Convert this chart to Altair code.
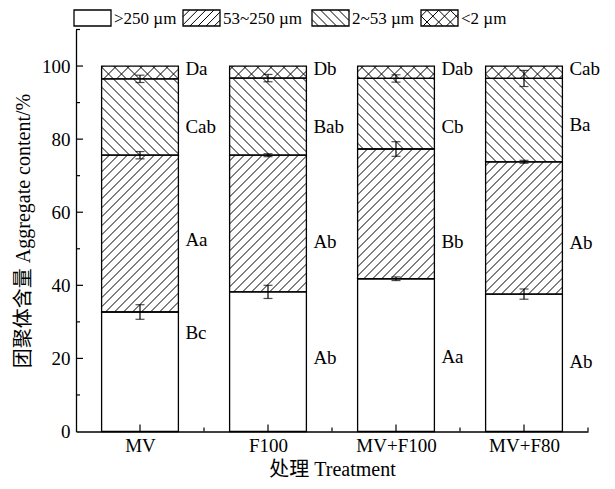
import altair as alt
import pandas as pd
import numpy as np

# ---------------- data ----------------
treatments = ["MV", "F100", "MV+F100", "MV+F80"]
size_classes = [">250 µm", "53~250 µm", "2~53 µm", "<2 µm"]

pct_gt250 = [32.7, 38.2, 41.8, 37.6]
pct_53_250 = [42.9, 37.4, 35.5, 36.2]
pct_2_53 = [20.9, 21.1, 19.3, 22.8]
pct_lt2 = [3.5, 3.3, 3.4, 3.4]

err_gt250 = [2.0, 1.8, 0.5, 1.4]
err_53_250 = [1.0, 0.4, 2.0, 0.4]
err_2_53 = [1.0, 1.0, 1.0, 2.2]

letters_gt250 = ["Bc", "Ab", "Aa", "Ab"]
letters_53_250 = ["Aa", "Ab", "Bb", "Ab"]
letters_2_53 = ["Cab", "Bab", "Cb", "Ba"]
letters_lt2 = ["Da", "Db", "Dab", "Cab"]

label_y_gt250 = [27.0, 20.0, 20.3, 19.0]
label_y_53_250 = [52.3, 51.8, 51.8, 51.5]
label_y_2_53 = [83.3, 83.3, 83.3, 83.8]
label_y_lt2 = [99.2, 99.2, 99.2, 99.2]

y_major = [0, 20, 40, 60, 80, 100]
y_minor = [10, 30, 50, 70, 90, 110]
x_minor = [1.5, 2.5, 3.5, 4.5]

# ---------------- layout / style ----------------
W, H = 512, 402
X_DOM = (0.5, 4.5)
Y_DOM = (0, 110)
KX = W / (X_DOM[1] - X_DOM[0])
KY = H / (Y_DOM[1] - Y_DOM[0])
HALF_BAR = 0.3
FONT = "Liberation Serif, Times New Roman, Noto Sans CJK SC"
patterns = [None, "/", "\\", "x"]
spacings = [None, 9.0, 10.0, 13.0]


def hatch(x0, x1, y0, y1, kind, s):
    """Clip 45-degree hatch lines (pixel space) to a rectangle given in data units."""
    u0, u1 = (x0 - X_DOM[0]) * KX, (x1 - X_DOM[0]) * KX
    v0, v1 = y0 * KY, y1 * KY
    out = []
    kinds = ["/", "\\"] if kind == "x" else [kind]
    for k in kinds:
        if k == "/":
            cmin, cmax = v0 - u1, v1 - u0
            for c in np.arange(np.floor(cmin / s) * s, cmax + s, s):
                lo, hi = max(u0, v0 - c), min(u1, v1 - c)
                if hi - lo > 0.3:
                    out.append((lo, lo + c, hi, hi + c))
        else:
            cmin, cmax = u0 + v0, u1 + v1
            for c in np.arange(np.floor(cmin / s) * s, cmax + s, s):
                lo, hi = max(u0, c - v1), min(u1, c - v0)
                if hi - lo > 0.3:
                    out.append((lo, c - lo, hi, c - hi))
    return [(a / KX + X_DOM[0], b / KY, c / KX + X_DOM[0], d / KY) for a, b, c, d in out]


# ---------------- build tables ----------------
segs = [pct_gt250, pct_53_250, pct_2_53, pct_lt2]
errs = [err_gt250, err_53_250, err_2_53]
letters = [letters_gt250, letters_53_250, letters_2_53, letters_lt2]
label_ys = [label_y_gt250, label_y_53_250, label_y_2_53, label_y_lt2]

rect_rows, hatch_rows, err_rows, text_rows = [], [], [], []
for i, t in enumerate(treatments):
    c = i + 1
    base = 0.0
    for j, cls in enumerate(size_classes):
        top = base + segs[j][i]
        rect_rows.append(dict(x0=c - HALF_BAR, x1=c + HALF_BAR, y0=base, y1=top, cls=cls))
        if patterns[j]:
            for a, b, cc, d in hatch(c - HALF_BAR, c + HALF_BAR, base, top, patterns[j], spacings[j]):
                hatch_rows.append(dict(xa=a, ya=b, xb=cc, yb=d))
        if j < 3:
            err_rows.append(dict(x=c, lo=top - errs[j][i], hi=top + errs[j][i]))
        text_rows.append(dict(x=c + HALF_BAR, y=label_ys[j][i], t=letters[j][i]))
        base = top

# legend (pixel layout above the plot, converted to data units)
leg_sw_x = [74, 183, 312, 421]
leg_w, leg_top, leg_bot, leg_ty = 37, 10, 26, 18.5
PLOT_LEFT, PLOT_TOP = 76, 29.5


def px2x(px):
    return X_DOM[0] + (px - PLOT_LEFT) / KX


def py2y(py):
    return (H - (py - PLOT_TOP)) / KY


leg_rect, leg_text = [], []
for j, cls in enumerate(size_classes):
    x0, x1 = px2x(leg_sw_x[j]), px2x(leg_sw_x[j] + leg_w)
    y0, y1 = py2y(leg_bot), py2y(leg_top)
    leg_rect.append(dict(x0=x0, x1=x1, y0=y0, y1=y1))
    if patterns[j]:
        for a, b, cc, d in hatch(x0, x1, y0, y1, patterns[j], spacings[j] * 0.9):
            hatch_rows.append(dict(xa=a, ya=b, xb=cc, yb=d))
    leg_text.append(dict(x=px2x(leg_sw_x[j] + leg_w + 3), y=py2y(leg_ty), t=cls))

rect_df = pd.DataFrame(rect_rows)
hatch_df = pd.DataFrame(hatch_rows)
err_df = pd.DataFrame(err_rows)
text_df = pd.DataFrame(text_rows)
leg_rect_df = pd.DataFrame(leg_rect)
leg_text_df = pd.DataFrame(leg_text)

# ---------------- encodings ----------------
xs = alt.Scale(domain=list(X_DOM), nice=False, zero=False)
ys = alt.Scale(domain=list(Y_DOM), nice=False, zero=False)
x_axis = alt.Axis(
    values=[1, 2, 3, 4],
    labelExpr="['', 'MV', 'F100', 'MV+F100', 'MV+F80'][datum.value]",
    tickSize=0, grid=False, labelPadding=5, title="处理 Treatment", titlePadding=4,
)
y_axis = alt.Axis(
    values=y_major, tickSize=0, grid=False, labelPadding=6,
    title="团聚体含量 Aggregate content/%", titlePadding=8,
)


def X(f):
    return alt.X(f, type="quantitative", scale=xs, axis=x_axis)


def Y(f):
    return alt.Y(f, type="quantitative", scale=ys, axis=y_axis)


bars = alt.Chart(rect_df).mark_rect(fill="white", stroke=None).encode(
    x=X("x0"), x2="x1", y=Y("y0"), y2="y1")
hatch_l = alt.Chart(hatch_df).mark_rule(color="black", strokeWidth=1.0).encode(
    x=X("xa"), y=Y("ya"), x2="xb", y2="yb")
outline = alt.Chart(rect_df).mark_rect(fill=None, stroke="black", strokeWidth=1.3).encode(
    x=X("x0"), x2="x1", y=Y("y0"), y2="y1")
leg_box = alt.Chart(leg_rect_df).mark_rect(fill=None, stroke="black", strokeWidth=1.3, clip=False).encode(
    x=X("x0"), x2="x1", y=Y("y0"), y2="y1")
err_v = alt.Chart(err_df).mark_rule(color="black", strokeWidth=1.2).encode(
    x=X("x"), y=Y("lo"), y2="hi")
cap_lo = alt.Chart(err_df).mark_tick(color="black", orient="horizontal", size=9, thickness=1.2).encode(
    x=X("x"), y=Y("lo"))
cap_hi = alt.Chart(err_df).mark_tick(color="black", orient="horizontal", size=9, thickness=1.2).encode(
    x=X("x"), y=Y("hi"))
letters_l = alt.Chart(text_df).mark_text(
    align="left", baseline="middle", dx=7, font=FONT, fontSize=19, color="black").encode(
    x=X("x"), y=Y("y"), text="t:N")
leg_t = alt.Chart(leg_text_df).mark_text(
    align="left", baseline="middle", font=FONT, fontSize=17, color="black").encode(
    x=X("x"), y=Y("y"), text="t:N")

ymaj_df = pd.DataFrame({"v": y_major[1:]})
ymin_df = pd.DataFrame({"v": y_minor})
xmaj_df = pd.DataFrame({"v": [1, 2, 3, 4]})
xmin_df = pd.DataFrame({"v": x_minor})
tick_y_major = alt.Chart(ymaj_df).mark_rule(color="black", strokeWidth=1.2).encode(
    y=Y("v"), x=alt.value(0), x2=alt.value(7))
tick_y_minor = alt.Chart(ymin_df).mark_rule(color="black", strokeWidth=1.2).encode(
    y=Y("v"), x=alt.value(0), x2=alt.value(4))
tick_x_major = alt.Chart(xmaj_df).mark_rule(color="black", strokeWidth=1.2).encode(
    x=X("v"), y=alt.value(H), y2=alt.value(H - 7))
tick_x_minor = alt.Chart(xmin_df).mark_rule(color="black", strokeWidth=1.2).encode(
    x=X("v"), y=alt.value(H), y2=alt.value(H - 4))

chart = alt.layer(
    bars, hatch_l, outline, leg_box, err_v, cap_lo, cap_hi, letters_l, leg_t,
    tick_y_major, tick_y_minor, tick_x_major, tick_x_minor,
).properties(
    width=W, height=H,
    autosize=alt.AutoSizeParams(type="none"),
    padding={"left": 68, "top": 21.5, "right": 19, "bottom": 56},
).configure_view(stroke=None).configure_axis(
    domainColor="black", domainWidth=1.3,
    labelFont=FONT, labelFontSize=19, labelColor="black",
    titleFont=FONT, titleFontSize=20, titleColor="black", titleFontWeight="normal",
)

chart.save("out.html", embed_options={"renderer": "svg", "actions": False})
